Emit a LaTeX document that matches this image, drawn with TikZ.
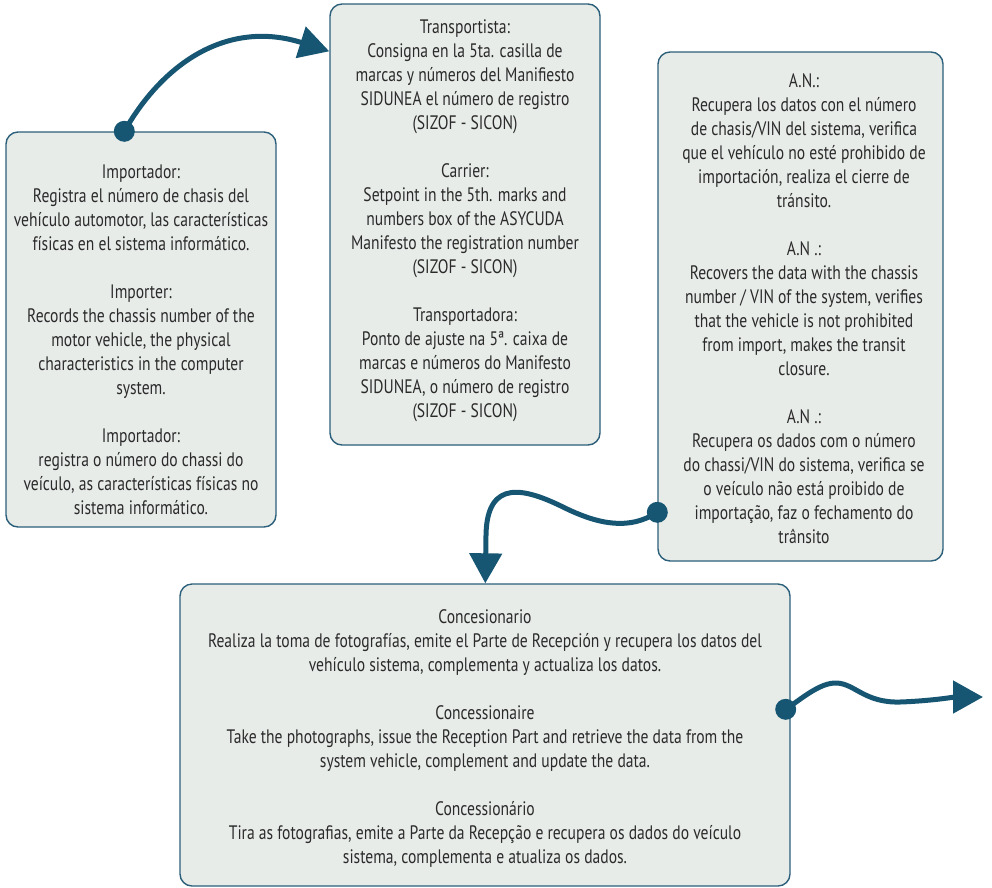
\documentclass[tikz,border=0pt]{standalone}
\usepackage{fontspec}
\setmainfont[FakeStretch=0.8]{PT Sans}
\usetikzlibrary{arrows.meta}
\definecolor{boxfill}{HTML}{E8ECE9}
\definecolor{boxline}{HTML}{2B5F7A}
\definecolor{flow}{HTML}{175673}
\definecolor{txt}{HTML}{2A2A2A}
\tikzset{
  card/.style={draw=boxline, fill=boxfill, line width=1.4pt, rounded corners=12pt, inner sep=0pt},
  cardtext/.style={align=center, text=txt, inner sep=0pt, font=\fontsize{19.5}{24}\selectfont},
  flowline/.style={draw=flow, line width=5pt, -{Triangle[length=30pt,width=32pt]}},
  flowdot/.style={fill=flow, draw=none}
}
\begin{document}
\begin{tikzpicture}[x=1pt,y=-1pt]
\useasboundingbox (0,0) rectangle (992,887);
% boxes
\node[card, minimum width=270pt, minimum height=395pt] (imp) at (141,329.5) {};
\node[card, minimum width=270pt, minimum height=441pt] (tra) at (465,224.5) {};
\node[card, minimum width=285pt, minimum height=509pt] (an) at (800.5,306.5) {};
\node[card, minimum width=610pt, minimum height=302pt] (con) at (485,735) {};
% texts
\node[cardtext] (impt) at (141,339.5) {Importador:\\Registra el número de chasis del\\vehículo automotor, las características\\físicas en el sistema informático.\\[24pt]Importer:\\Records the chassis number of the\\motor vehicle, the physical\\characteristics in the computer\\system.\\[24pt]Importador:\\registra o número do chassi do\\veículo, as características físicas no\\sistema informático.};
\node[cardtext] (trat) at (465,220.5) {Transportista:\\Consigna en la 5ta. casilla de\\marcas y números del Manifiesto\\SIDUNEA el número de registro\\(SIZOF - SICON)\\[24pt]Carrier:\\Setpoint in the 5th. marks and\\numbers box of the ASYCUDA\\Manifesto the registration number\\(SIZOF - SICON)\\[24pt]Transportadora:\\Ponto de ajuste na 5ª. caixa de\\marcas e números do Manifesto\\SIDUNEA, o número de registro\\(SIZOF - SICON)};
\node[cardtext] (ant) at (804,308.5) {A.N.:\\Recupera los datos con el número\\de chasis/VIN del sistema, verifica\\que el vehículo no esté prohibido de\\importación, realiza el cierre de\\tránsito.\\[24pt]A.N .:\\Recovers the data with the chassis\\number / VIN of the system, verifies\\that the vehicle is not prohibited\\from import, makes the transit\\closure.\\[24pt]A.N .:\\Recupera os dados com o número\\do chassi/VIN do sistema, verifica se\\o veículo não está proibido de\\importação, faz o fechamento do\\trânsito};
\node[cardtext] (cont) at (485,738) {Concesionario\\Realiza la toma de fotografías, emite el Parte de Recepción y recupera los datos del\\vehículo sistema, complementa y actualiza los datos.\\[24pt]Concessionaire\\Take the photographs, issue the Reception Part and retrieve the data from the\\system vehicle, complement and update the data.\\[24pt]Concessionário\\Tira as fotografias, emite a Parte da Recepção e recupera os dados do veículo\\sistema, complementa e atualiza os dados.};
% connector anchors
\coordinate (s1) at ([xshift=119pt]imp.north west);
\coordinate (e1) at ([yshift=-48pt]tra.north west);
\coordinate (s2) at ([yshift=-461pt]an.north west);
\coordinate (e2) at ([xshift=306pt]con.north west);
\coordinate (s3) at ([xshift=-5pt,yshift=-126pt]con.north east);
\coordinate (e3) at (983,697);
% connectors
\draw[flowline] (s1) .. controls (165,60) and (230,20) .. (e1);
\draw[flowline] (s2) .. controls (630,530) and (600,525) .. (565,508) .. controls (525,488) and (487,478) .. (486,535) -- (e2);
\draw[flowline] (s3) .. controls (800,700) and (820,682) .. (837,683) .. controls (855,684) and (865,703) .. (900,702) .. controls (930,701) and (955,697) .. (e3);
\fill[flowdot] (s1) circle (10.5pt);
\fill[flowdot] (s2) circle (10.5pt);
\fill[flowdot] (s3) circle (10.5pt);
\end{tikzpicture}
\end{document}
